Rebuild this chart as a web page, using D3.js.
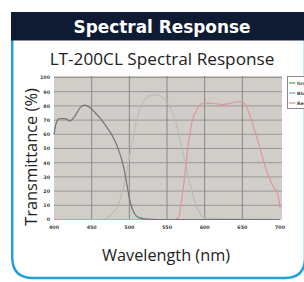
<!DOCTYPE html>
<html>
<head>
<meta charset="utf-8">
<script src="https://cdn.jsdelivr.net/npm/d3@7"></script>
<style>
  body { margin: 0; background: #fff; overflow: hidden; }
  svg { display: block; }
</style>
</head>
<body>
<div id="chartArea"></div>
<script>
// values
var xTicks = [400, 450, 500, 550, 600, 650, 700];
var yTicks = [0, 10, 20, 30, 40, 50, 60, 70, 80, 90, 100];
var seriesNames = ["Green", "Blue", "Red"];

var greenWl = [400, 465, 475, 485, 492, 498, 503, 508, 514, 520, 527, 534, 541, 548, 555, 562, 568, 574, 580, 586, 593, 600, 700];
var greenT  = [0, 0, 3, 10, 22, 38, 52, 66, 78, 84, 87, 88, 87, 84, 78, 68, 55, 40, 26, 14, 5, 1, 0];

var blueWl = [400, 403, 407, 415, 421, 428, 435, 441, 447, 455, 461, 470, 478, 485, 490, 494, 497, 500, 503, 507, 512, 520, 540, 700];
var blueT  = [60, 68, 71, 71, 69.5, 73, 79, 80.5, 79, 75, 71.5, 65, 58.5, 50, 42, 33, 24, 15, 9, 4, 1.5, 0.5, 0, 0];

var redWl = [400, 560, 565, 569, 574, 578, 583, 590, 596, 605, 615, 625, 635, 645, 652, 656, 662, 668, 674, 680, 686, 691, 697, 700];
var redT  = [0, 0, 1, 12, 33, 52, 68, 78, 81.5, 82, 81.5, 81, 82, 83, 82, 79, 70, 60, 49, 38, 29, 23, 18, 8];

var W = 304, H = 282;
var svg = d3.select("#chartArea").append("svg")
    .attr("width", W)
    .attr("height", H);

// scale a text's font size so it spans the width seen in the picture
function fitText(sel, targetWidth) {
    var fs = parseFloat(sel.attr("font-size"));
    var w = sel.node().getComputedTextLength();
    if (w > 0) sel.attr("font-size", (fs * targetWidth / w).toFixed(2));
    return sel;
}

// card with blue border
svg.append("path")
    .attr("d", "M12.2,40 L12.2,257 Q12.2,278 33,278 L285,278 Q305,278 305,258 L305,40")
    .attr("fill", "#fff")
    .attr("stroke", "#1f9fdc")
    .attr("stroke-width", 2.5);

// header band
svg.append("rect")
    .attr("x", 11).attr("y", 12)
    .attr("width", W - 11).attr("height", 28.5)
    .attr("fill", "#0f1b33");

fitText(svg.append("text")
    .attr("x", 162).attr("y", 33)
    .attr("text-anchor", "middle")
    .attr("font-family", "'DejaVu Sans', sans-serif")
    .attr("font-weight", "bold")
    .attr("font-size", 16)
    .attr("fill", "#fff")
    .text("Spectral Response"), 177);

fitText(svg.append("text")
    .attr("x", 162).attr("y", 65)
    .attr("text-anchor", "middle")
    .attr("font-family", "'Open Sans', sans-serif")
    .attr("font-weight", 400)
    .attr("font-size", 15)
    .attr("fill", "#222")
    .text("LT-200CL Spectral Response"), 225);

// scales
var x = d3.scaleLinear().domain([400, 700]).range([54, 280]);
var y = d3.scaleLinear().domain([0, 100]).range([219.5, 77.5]);

// plot background
svg.append("rect")
    .attr("x", x(400)).attr("y", y(100) - 1.5)
    .attr("width", x(700) - x(400) + 2)
    .attr("height", y(0) - y(100) + 2)
    .attr("fill", "#d1cdc9");

// grid
svg.append("g").selectAll("line")
    .data(yTicks.slice(1))
    .enter().append("line")
    .attr("x1", x(400)).attr("x2", x(700) + 2)
    .attr("y1", d => y(d)).attr("y2", d => y(d))
    .attr("stroke", "#9a9693")
    .attr("stroke-width", 1);

svg.append("g").selectAll("line")
    .data(xTicks.slice(1, -1))
    .enter().append("line")
    .attr("x1", d => x(d)).attr("x2", d => x(d))
    .attr("y1", y(100) - 1.5).attr("y2", y(0))
    .attr("stroke", "#8a8784")
    .attr("stroke-width", 1);

// curves
var line = d3.line()
    .x(d => x(d[0]))
    .y(d => y(d[1]))
    .curve(d3.curveMonotoneX);

function addCurve(wl, t, color, width) {
    svg.append("path")
        .datum(d3.zip(wl, t))
        .attr("d", line)
        .attr("fill", "none")
        .attr("stroke", color)
        .attr("stroke-width", width)
        .attr("stroke-linejoin", "round");
}
addCurve(greenWl, greenT, "#babdb4", 1.2);
addCurve(redWl, redT, "#df95a1", 1.2);
addCurve(blueWl, blueT, "#74737a", 1.2);

// tick labels
svg.append("g").selectAll("text")
    .data(yTicks)
    .enter().append("text")
    .attr("x", 50).attr("y", d => y(d) + 1.8)
    .attr("text-anchor", "end")
    .attr("font-family", "'DejaVu Sans', sans-serif")
    .attr("font-weight", "bold")
    .attr("font-size", 4.8)
    .attr("fill", "#3a3a3a")
    .text(d => d);

svg.append("g").selectAll("text")
    .data(xTicks)
    .enter().append("text")
    .attr("x", d => x(d)).attr("y", 229)
    .attr("text-anchor", "middle")
    .attr("font-family", "'DejaVu Sans', sans-serif")
    .attr("font-weight", "bold")
    .attr("font-size", 4.8)
    .attr("fill", "#3a3a3a")
    .text(d => d);

// axis titles
fitText(svg.append("text")
    .attr("transform", "translate(36.5,157) rotate(-90)")
    .attr("text-anchor", "middle")
    .attr("font-family", "'Open Sans', sans-serif")
    .attr("font-size", 15)
    .attr("fill", "#222")
    .text("Transmittance (%)"), 138);

fitText(svg.append("text")
    .attr("x", 166).attr("y", 261)
    .attr("text-anchor", "middle")
    .attr("font-family", "'Open Sans', sans-serif")
    .attr("font-size", 15)
    .attr("fill", "#222")
    .text("Wavelength (nm)"), 128);

// legend (cut by the right edge, as in the picture)
var legColors = ["#3cb44b", "#7aa3d6", "#ef8a99"];
var leg = svg.append("g");
leg.append("rect")
    .attr("x", 287.5).attr("y", 76.5)
    .attr("width", 30).attr("height", 32)
    .attr("fill", "#fff")
    .attr("stroke", "#8a8a8a")
    .attr("stroke-width", 1);
seriesNames.forEach(function (name, i) {
    var ly = 83 + i * 10;
    leg.append("line")
        .attr("x1", 289).attr("x2", 295.5)
        .attr("y1", ly).attr("y2", ly)
        .attr("stroke", legColors[i])
        .attr("stroke-width", 1.2);
    leg.append("text")
        .attr("x", 297).attr("y", ly + 1.7)
        .attr("font-family", "'DejaVu Sans', sans-serif")
        .attr("font-weight", "bold")
        .attr("font-size", 4.5)
        .attr("fill", "#444")
        .text(name);
});
</script>
</body>
</html>
